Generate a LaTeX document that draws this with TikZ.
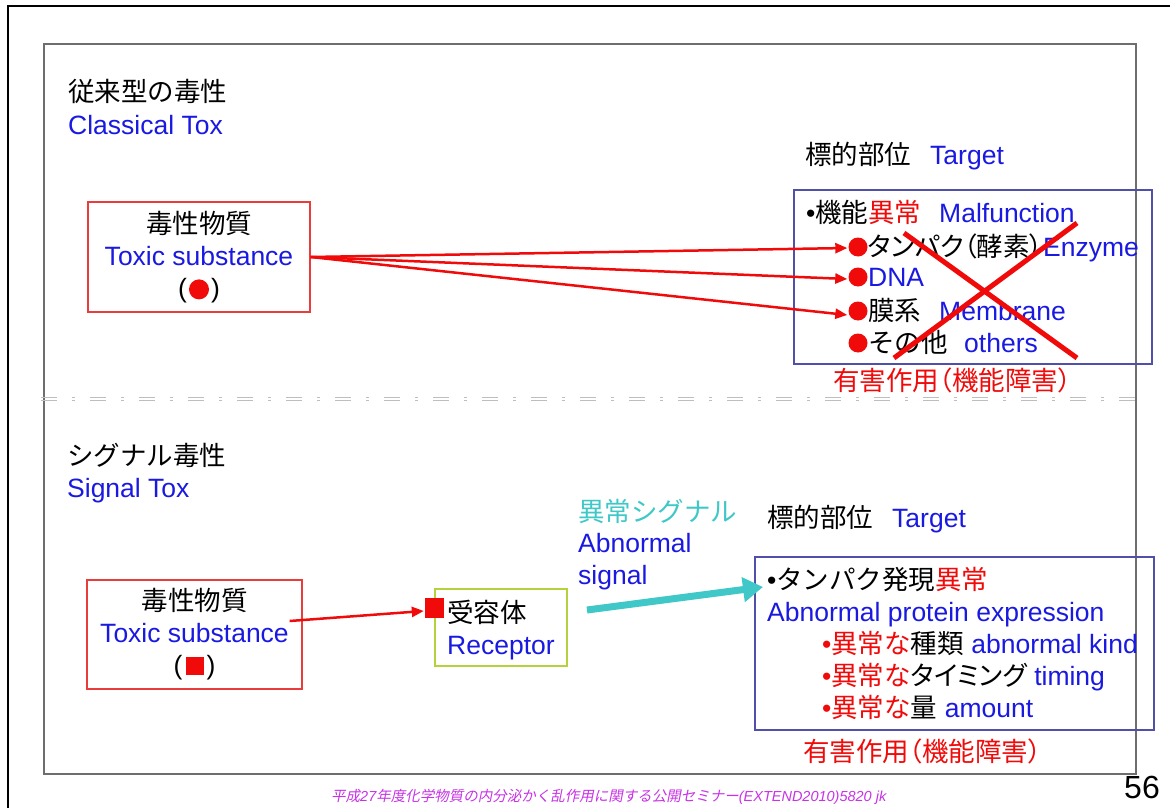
\documentclass[tikz,border=0pt]{standalone}
\usepackage{fontspec}
\setmainfont{Liberation Sans}
\newfontfamily\jp{Noto Sans CJK JP}
\newfontfamily\jpp[RawFeature=+palt]{Noto Sans CJK JP}
\newfontfamily\jpit[FakeSlant=0.2]{Noto Sans CJK JP}
\usetikzlibrary{arrows.meta,calc}
\definecolor{myblue}{RGB}{25,25,225}
\definecolor{myred}{RGB}{240,10,10}
\definecolor{boxred}{RGB}{235,60,60}
\definecolor{boxblue}{RGB}{80,80,170}
\definecolor{boxgreen}{RGB}{180,210,60}
\definecolor{mycyan}{RGB}{64,200,200}
\definecolor{footcol}{RGB}{200,50,230}
\definecolor{framegray}{RGB}{110,110,110}
\definecolor{dashgray}{RGB}{190,190,190}
\newcommand\fsz{\fontsize{26.5}{32}\selectfont}
\begin{document}
\begin{tikzpicture}[x=1pt,y=-1pt,
  txt/.style={inner sep=0pt, anchor=base west, font=\fsz},
  rbox/.style={draw=boxred, line width=1.3pt, inner sep=0pt, align=center, font=\fsz},
  bbox/.style={draw=boxblue, line width=1.3pt, inner sep=0pt},
  gbox/.style={draw=boxgreen, line width=1.3pt, inner sep=0pt},
  dotc/.style={circle, fill=myred, minimum size=19pt, inner sep=0pt},
  redarrow/.style={draw=myred, line width=2.5pt, -{Triangle[length=12pt,width=10pt]}},
  cyanarrow/.style={draw=mycyan, line width=7pt, -{Triangle[length=20pt,width=24pt]}},
  crossline/.style={draw=myred, line width=5pt},
  dashline/.style={draw=dashgray, line width=1pt, dash pattern=on 16pt off 15pt on 3pt off 15pt}
]
\useasboundingbox (0,0) rectangle (1170,808);
\fill[white] (0,0) rectangle (1170,808);
% frames
\draw[line width=2pt] (8.4,812) -- (8.4,6) -- (1174,6);
\draw[framegray, line width=2pt] (44,44) rectangle (1136,774);
% divider
\draw[dashline] (41,397.5) -- (1140,397.5);
\draw[dashline] (41,400.5) -- (1140,400.5);

% ---------- top section ----------
\node[txt] (t1) at (68,102) {\jp 従来型の毒性};
\node[txt,text=myblue] (t1e) at (68,134) {Classical Tox};
\node[rbox, minimum width=222pt, minimum height=110pt] (box1) at (199,257)
  {{\jp 毒性物質}\\\textcolor{myblue}{Toxic substance}\\(\hspace{2pt}\tikz[baseline=-8pt]\fill[myred] (0pt,0pt) circle (10pt);\hspace{2pt})};

\node[txt] (tg1) at (805,164.5) {\jp 標的部位};
\node[txt,text=myblue] (tg1e) at (930,164.5) {Target};
\node[bbox, minimum width=358pt, minimum height=174pt] (bb1) at (973,277) {};

\node[txt] (m1) at (806,222.5) {•{\jp 機能\textcolor{myred}{異常}}};
\node[txt,text=myblue] (m1e) at (939,222.5) {Malfunction};
\node[dotc] (d1) at (858,247) {};
\node[dotc] (d2) at (858,277) {};
\node[dotc] (d3) at (858,311) {};
\node[dotc] (d4) at (858,343) {};
\node[txt] (m2) at (868,256.5) {{\jpp タンパク（酵素）}\textcolor{myblue}{Enzyme}};
\node[txt,text=myblue] (m3) at (868,286.5) {DNA};
\node[txt] (m4) at (868,320.5) {\jp 膜系};
\node[txt,text=myblue] (m4e) at (939,320.5) {Membrane};
\node[txt] (m5) at (868,352.5) {\jp その他};
\node[txt,text=myblue] (m5e) at (964,352.5) {others};
\node[txt,text=myred] (h1) at (833,390.5) {\jpp 有害作用（機能障害）};

\draw[redarrow] (box1.east) -- ($(d1.west)+(-1,1)$);
\draw[redarrow] (box1.east) -- ($(d2.west)+(-1,2)$);
\draw[redarrow] (box1.east) -- ($(d3.west)+(-1,4)$);

\coordinate (xa1) at (894,358);
\coordinate (xa2) at (1077,223);
\coordinate (xb1) at (904,233);
\coordinate (xb2) at (1077,358);
\draw[crossline] (xa1) -- (xa2);
\draw[crossline] (xb1) -- (xb2);

% ---------- bottom section ----------
\node[txt] (s1) at (67,465) {\jp シグナル毒性};
\node[txt,text=myblue] (s1e) at (67,497) {Signal Tox};
\node[rbox, minimum width=215pt, minimum height=109pt] (box2) at (194.5,634.5)
  {{\jp 毒性物質}\\\textcolor{myblue}{Toxic substance}\\(\hspace{3pt}\textcolor{myred}{\rule{18pt}{18pt}}\hspace{3pt})};

\node[gbox, minimum width=132pt, minimum height=77pt] (rec) at (501,627.5) {};
\node[txt] (r1) at (447,622.5) {\jp 受容体};
\node[txt,text=myblue] (r1e) at (447,654.5) {Receptor};
\node[fill=myred, minimum width=19pt, minimum height=20pt, inner sep=0pt] (sq) at (434.5,608) {};
\draw[redarrow] ($(box2.east)+(-13,-13.5)$) -- ($(sq.west)+(-1,3)$);

\node[txt,text=mycyan] (c1) at (578,521.5) {\jp 異常シグナル};
\node[txt,text=myblue] (c2) at (578,552.5) {Abnormal};
\node[txt,text=myblue] (c3) at (578,584) {signal};

\node[txt] (tg2) at (767,527.5) {\jp 標的部位};
\node[txt,text=myblue] (tg2e) at (892,527.5) {Target};
\node[bbox, minimum width=399pt, minimum height=173pt] (bb2) at (954.5,643.5) {};
\node[txt] (p1) at (767,589.5) {•{\jp タンパク発現\textcolor{myred}{異常}}};
\node[txt,text=myblue] (p2) at (767,621) {Abnormal protein expression};
\node[txt] (p3) at (822,653.5) {\textcolor{myred}{•{\jp 異常な}}{\jp 種類} \textcolor{myblue}{abnormal kind}};
\node[txt] (p4) at (822,685.5) {\textcolor{myred}{•{\jp 異常な}}{\jpp タイミング} \textcolor{myblue}{timing}};
\node[txt] (p5) at (822,717.5) {\textcolor{myred}{•{\jp 異常な}}{\jp 量} \textcolor{myblue}{amount}};
\node[txt,text=myred] (h2) at (803,761.5) {\jpp 有害作用（機能障害）};

\coordinate (cs) at (587,610);
\coordinate (ce) at (763,587);
\draw[cyanarrow] (cs) -- (ce);

% ---------- footer ----------
\node[anchor=base west, inner sep=0pt, font=\fontsize{32}{32}\selectfont] (pg) at (1124,798) {56};
\node[anchor=base west, inner sep=0pt, font=\fontsize{14.5}{14.5}\selectfont, text=footcol] (ft) at (331,801)
  {{\jpit 平成}{\itshape 27}{\jpit 年度化学物質の内分泌かく乱作用に関する公開セミナー}{\itshape (EXTEND2010)5820 jk}};
\end{tikzpicture}
\end{document}
